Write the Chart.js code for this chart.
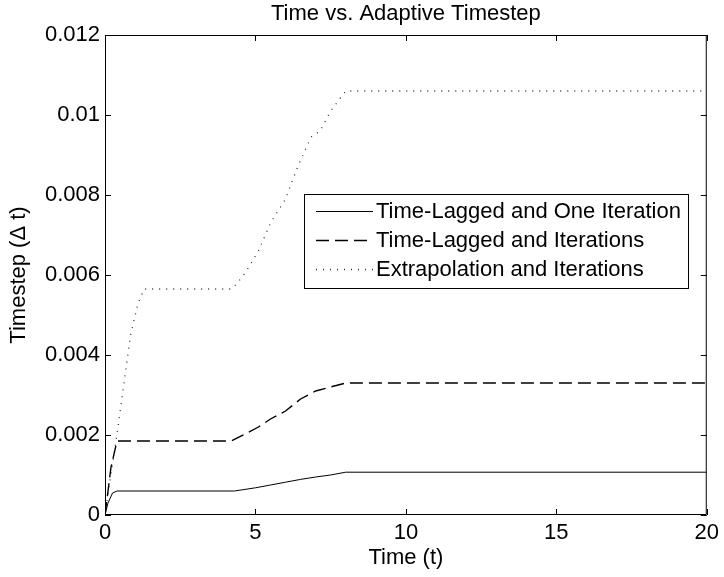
<!DOCTYPE html>
<html>
<head>
<meta charset="utf-8">
<script src="https://cdn.jsdelivr.net/npm/chart.js@4.4.1/dist/chart.umd.min.js"></script>
<style>
  html, body { margin: 0; padding: 0; background: #fff; }
  #wrap { width: 724px; height: 577px; }
</style>
</head>
<body>
<div id="wrap"><canvas id="chart"></canvas></div>
<script>
const xTicks = [0, 5, 10, 15, 20];
const yTicks = [0, 0.002, 0.004, 0.006, 0.008, 0.01, 0.012];

const chartTitle = 'Time vs. Adaptive Timestep';
const seriesNames = ['Time-Lagged and One Iteration', 'Time-Lagged and Iterations', 'Extrapolation and Iterations'];

const tOneIter = [0, 0.1, 0.25, 0.4, 4.3, 5.0, 5.5, 6.0, 6.5, 7.0, 7.5, 8.0, 20];
const dtOneIter = [0, 0.0003, 0.00055, 0.0006, 0.0006, 0.00068, 0.00075, 0.00082, 0.00089, 0.00095, 0.001, 0.00107, 0.00107];

const tLagged = [0, 0.1, 0.2, 0.4, 4.2, 4.6, 5.1, 5.5, 6.0, 6.5, 7.0, 7.5, 8.0, 20];
const dtLagged = [0, 0.0006, 0.0012, 0.00185, 0.00185, 0.002, 0.0022, 0.0024, 0.0026, 0.0029, 0.0031, 0.0032, 0.0033, 0.0033];

const tExtrap = [0, 0.15, 0.3, 0.45, 0.65, 0.85, 1.1, 1.3, 4.2, 4.4, 4.7, 5.1, 5.5, 6.0, 6.4, 6.85, 7.15, 7.5, 8.0, 20];
const dtExtrap = [0, 0.0008, 0.0015, 0.0023, 0.0034, 0.0045, 0.0053, 0.00565, 0.00565, 0.0058, 0.0061, 0.0066, 0.0073, 0.0079, 0.0087, 0.00945, 0.0096, 0.0101, 0.0106, 0.0106];

const FONT = '"Liberation Sans", Arial, sans-serif';
const dashes = [[], [13, 6], [1, 6]];

function pts(ts, vs) {
    return ts.map((t, i) => ({ x: t, y: vs[i] }));
}

// matlab style box with inward ticks + title centred over the axes
const boxPlugin = {
    id: 'box',
    afterDraw(chart) {
        const ctx = chart.ctx;
        const a = chart.chartArea;
        const xs = chart.scales.x, ys = chart.scales.y;
        ctx.save();
        ctx.strokeStyle = '#000';
        ctx.lineWidth = 1;
        ctx.beginPath();
        ctx.rect(a.left + 0.5, a.top + 0.5, a.right - a.left - 1, a.bottom - a.top - 1);
        xTicks.forEach(v => {
            const px = Math.round(xs.getPixelForValue(v)) + 0.5;
            ctx.moveTo(px, a.bottom); ctx.lineTo(px, a.bottom - 6);
            ctx.moveTo(px, a.top); ctx.lineTo(px, a.top + 6);
        });
        yTicks.forEach(v => {
            const py = Math.round(ys.getPixelForValue(v)) + 0.5;
            ctx.moveTo(a.left, py); ctx.lineTo(a.left + 6, py);
            ctx.moveTo(a.right, py); ctx.lineTo(a.right - 6, py);
        });
        ctx.stroke();

        ctx.fillStyle = '#000';
        ctx.font = '22px ' + FONT;
        ctx.textAlign = 'center';
        ctx.textBaseline = 'middle';
        ctx.fillText(chartTitle, (a.left + a.right) / 2, 14);
        ctx.restore();
    }
};

const legendPlugin = {
    id: 'boxLegend',
    afterDraw(chart) {
        const ctx = chart.ctx;
        const a = chart.chartArea;
        const bx = a.left + 199, by = a.top + 159, bw = 384, bh = 94;
        ctx.save();
        ctx.fillStyle = '#fff';
        ctx.fillRect(bx, by, bw, bh);
        ctx.strokeStyle = '#000';
        ctx.lineWidth = 1;
        ctx.strokeRect(bx + 0.5, by + 0.5, bw, bh);
        ctx.font = '22px ' + FONT;
        ctx.textBaseline = 'middle';
        ctx.fillStyle = '#000';
        chart.data.datasets.forEach((ds, i) => {
            const y = by + 17 + i * 29;
            ctx.setLineDash(ds.borderDash);
            ctx.lineWidth = ds.borderWidth;
            ctx.strokeStyle = ds.borderColor;
            ctx.beginPath();
            ctx.moveTo(bx + 12, y + 0.5);
            ctx.lineTo(bx + 69, y + 0.5);
            ctx.stroke();
            ctx.setLineDash([]);
            ctx.fillText(ds.label, bx + 72, y + 1);
        });
        ctx.restore();
    }
};

new Chart(document.getElementById('chart'), {
    type: 'line',
    data: {
        datasets: [
            { label: seriesNames[0], data: pts(tOneIter, dtOneIter) },
            { label: seriesNames[1], data: pts(tLagged, dtLagged) },
            { label: seriesNames[2], data: pts(tExtrap, dtExtrap) }
        ].map((d, i) => Object.assign(d, {
            borderColor: i === 2 ? '#333' : '#000',
            borderWidth: i === 0 ? 1 : (i === 1 ? 1.4 : 1.3),
            borderDash: dashes[i],
            pointRadius: 0,
            tension: 0,
            fill: false
        }))
    },
    options: {
        responsive: true,
        maintainAspectRatio: false,
        animation: false,
        layout: { padding: { left: 0, right: 12, top: 35, bottom: 0 } },
        plugins: {
            legend: { display: false },
            tooltip: { enabled: false },
            title: { display: false }
        },
        scales: {
            x: {
                type: 'linear',
                min: 0, max: 20,
                afterBuildTicks: s => { s.ticks = xTicks.map(v => ({ value: v })); },
                afterFit: s => { s.height = 62; },
                grid: { display: false, drawTicks: false },
                border: { display: false },
                ticks: { color: '#000', font: { family: FONT, size: 22 }, padding: 5, maxRotation: 0 },
                title: { display: true, text: 'Time (t)', color: '#000', font: { family: FONT, size: 22 }, padding: { top: 0, bottom: 6 } }
            },
            y: {
                type: 'linear',
                min: 0, max: 0.012,
                afterBuildTicks: s => { s.ticks = yTicks.map(v => ({ value: v })); },
                afterFit: s => { s.width = 105; },
                grid: { display: false, drawTicks: false },
                border: { display: false },
                ticks: { color: '#000', font: { family: FONT, size: 22 }, padding: 5, callback: v => String(v) },
                title: { display: true, text: 'Timestep (\u0394 t)', color: '#000', font: { family: FONT, size: 22 }, padding: { top: 6, bottom: 0 } }
            }
        }
    },
    plugins: [boxPlugin, legendPlugin]
});
</script>
</body>
</html>
